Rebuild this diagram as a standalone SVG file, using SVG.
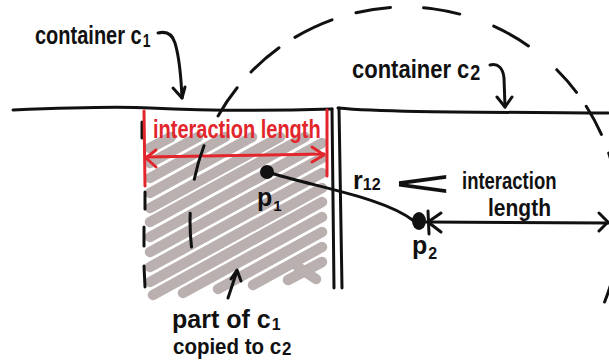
<svg xmlns="http://www.w3.org/2000/svg" width="609" height="361" viewBox="0 0 609 361">
  <style>
    .ink { fill: none; stroke: #111; stroke-width: 3; stroke-linecap: round; stroke-linejoin: round; }
    .red { fill: none; stroke: #e2262c; stroke-width: 3; stroke-linecap: round; stroke-linejoin: round; }
    .hatch { fill: none; stroke: #bab0b0; stroke-width: 10.5; stroke-linecap: round; }
    .hand { font-family: "Liberation Sans", Arial, sans-serif; font-weight: 700; fill: #111; }
    .redtext { font-family: "Liberation Sans", Arial, sans-serif; font-weight: 700; fill: #e2262c; }
    .dot { fill: #111; }
  </style>

  <!-- container c1: region of c1 that is copied into c2 -->
  <g id="container-c1">
    <!-- shaded copied strip -->
    <g id="copied-region" class="hatch">
      <path d="M150,148 L171,137"/>
      <path d="M150,163 L198,137"/>
      <path d="M150,178 L225,137"/>
      <path d="M150,193 L252,137"/>
      <path d="M150,208 L280,137"/>
      <path d="M150,222 L305,137"/>
      <path d="M150,237 L322,143"/>
      <path d="M150,252 L322,158"/>
      <path d="M150,267 L322,173"/>
      <path d="M150,282 L322,188"/>
      <path d="M153,295 L322,202"/>
      <path d="M183,293 L322,217"/>
      <path d="M218,289 L322,232"/>
      <path d="M253,285 L322,247"/>
      <path d="M288,280 L322,262"/>
      <path d="M298,267 L316,279"/>
    </g>
    <!-- top edge and right wall of c1 -->
    <path class="ink" d="M13,110 C60,108 115,106 150,108 C210,111 270,111 332,109"/>
    <path class="ink" d="M332,109 L334,288"/>
    <!-- dashed left boundary of the copied strip -->
    <path class="ink" d="M142,122 L142,138 M145,192 L145,209 M144,227 L144,246 M144,266 L145,287"/>
    <!-- interaction length marker -->
    <path class="red" d="M144,111 L145,186"/>
    <path class="red" d="M327,110 L327,176"/>
    <path class="red" d="M146,157 C200,156 270,155 324,154"/>
    <path class="red" d="M156,150 L146,158 L156,167"/>
    <path class="red" d="M312,147 L324,155 L312,162"/>
    <text class="redtext" font-size="20" transform="translate(153,138) scale(1,1.25)">interaction length</text>
  </g>

  <!-- container c2 -->
  <g id="container-c2">
    <path class="ink" d="M338,108 C380,112 450,112 608,113"/>
    <path class="ink" d="M339,108 L342,288"/>
  </g>

  <!-- particles -->
  <g id="p1">
    <circle class="dot" cx="267" cy="172" r="7"/>
    <text class="hand" x="257" y="206" font-size="25">p<tspan font-size="15" dx="1" dy="5">1</tspan></text>
  </g>
  <g id="p2">
    <ellipse class="dot" cx="419" cy="221" rx="7" ry="9"/>
    <text class="hand" x="412" y="254" font-size="25">p<tspan font-size="16" dx="1" dy="5">2</tspan></text>
  </g>

  <!-- connectors -->
  <g id="connectors">
    <!-- interaction range around p2 -->
    <path class="ink" stroke-width="3.5" stroke-dasharray="34 34 35 33 34 21 37 19 41 25 35 33 37 36 40 37 30 17 32 20 24 30 40 36 30 100" d="M191.5,247 A215,215 0 1 1 604.6,302"/>
    <!-- r12 between the particles -->
    <path class="ink" d="M267,172 C320,188 385,198 414,221"/>
    <!-- interaction length from p2 -->
    <path class="ink" d="M426,222 L608,223"/>
    <path class="ink" d="M428,211 L429,234 M441,213 L428,222 L441,232"/>
    <path class="ink" d="M599,213 L608,222 L599,231"/>
    <!-- label arrows -->
    <path class="ink" d="M158,33 C166,31 172,33 175,43 C179,56 181,75 182,98"/>
    <path class="ink" d="M173,88 L182,98 L185,87"/>
    <path class="ink" d="M490,65 C498,63 503,68 504,78 L505,107"/>
    <path class="ink" d="M497,97 L505,107 L512,97"/>
    <path class="ink" d="M228,298 L237,271"/>
    <path class="ink" d="M231,279 L237,270 L241,281"/>
  </g>

  <!-- labels -->
  <g id="label-c1">
    <text class="hand" font-size="20" transform="translate(35,44) scale(1,1.3)">container c<tspan font-size="14" dx="1" dy="2">1</tspan></text>
  </g>
  <g id="label-c2">
    <text class="hand" font-size="22" transform="translate(352,78) scale(1,1.2)">container c<tspan font-size="18" dx="1" dy="2">2</tspan></text>
  </g>
  <g id="label-r12">
    <text class="hand" x="353" y="189" font-size="25">r<tspan font-size="16" dy="1">12</tspan></text>
    <text class="hand" x="395" y="195" font-size="34" font-weight="400" textLength="55" lengthAdjust="spacingAndGlyphs">&lt;</text>
    <text class="hand" font-size="18.5" transform="translate(462,189) scale(1,1.3)">interaction</text>
    <text class="hand" font-size="21" transform="translate(488,215.5) scale(1,1.1)">length</text>
  </g>
  <g id="label-copied">
    <text class="hand" font-size="25" transform="translate(172,328)">part of c<tspan font-size="16" dx="1" dy="2">1</tspan></text>
    <text class="hand" font-size="20.5" transform="translate(173,354) scale(1,1.1)">copied to c<tspan font-size="17" dx="1" dy="1">2</tspan></text>
  </g>
</svg>
